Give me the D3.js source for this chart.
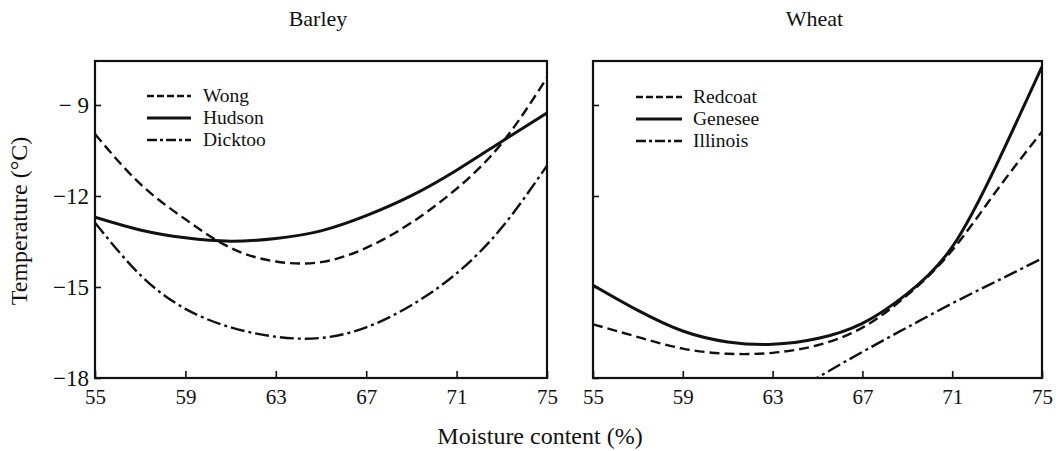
<!DOCTYPE html>
<html>
<head>
<meta charset="utf-8">
<script src="https://cdn.jsdelivr.net/npm/d3@7"></script>
<style>
  body { margin: 0; background: #fff; }
  svg { display: block; font-family: "Liberation Serif", "DejaVu Serif", serif; }
</style>
</head>
<body>
<svg width="1060" height="451"></svg>
<script>
var svg = d3.select("svg"),
  width = +svg.attr("width"),
  height = +svg.attr("height");

// moisture content (%) and temperature (°C)
var moisture = [55, 57, 59, 61, 63, 65, 67, 69, 71, 73, 75];
var wong     = [-9.96, -11.6, -12.77, -13.71, -14.16, -14.18, -13.71, -12.88, -11.76, -10.26, -8.1];
var hudson   = [-12.7, -13.12, -13.38, -13.49, -13.4, -13.15, -12.65, -11.99, -11.15, -10.2, -9.26];
var dicktoo  = [-12.88, -14.6, -15.72, -16.33, -16.64, -16.68, -16.33, -15.6, -14.55, -13.04, -11.0];
var redcoat  = [-16.23, -16.65, -17.03, -17.2, -17.17, -16.92, -16.34, -15.27, -13.79, -11.8, -9.88];
var genesee  = [-14.94, -15.77, -16.45, -16.81, -16.89, -16.7, -16.2, -15.22, -13.68, -10.93, -7.74];
var illinoisX = [64.5, 67, 69, 71, 73, 75];
var illinois  = [-18.2, -17.14, -16.33, -15.54, -14.8, -14.06];

var xTicks = [55, 59, 63, 67, 71, 75];
var yTicks = [-9, -12, -15, -18];

var dashStyle = "10,5";
var dashDotStyle = "14,4,3,4";

var panels = [
  { title: "Barley", left: 95, right: 547, showY: true,
    series: [
      { name: "Wong",    x: moisture, y: wong,    dash: dashStyle,    w: 2.4 },
      { name: "Hudson",  x: moisture, y: hudson,  dash: null,         w: 3 },
      { name: "Dicktoo", x: moisture, y: dicktoo, dash: dashDotStyle, w: 2.4 }
    ],
    legend: { x1: 147, x2: 191, tx: 203, y0: 96 } },
  { title: "Wheat", left: 593, right: 1042, showY: false,
    series: [
      { name: "Redcoat",  x: moisture,  y: redcoat,  dash: dashStyle,    w: 2.4 },
      { name: "Genesee",  x: moisture,  y: genesee,  dash: null,         w: 3 },
      { name: "Illinois", x: illinoisX, y: illinois, dash: dashDotStyle, w: 2.4 }
    ],
    legend: { x1: 636, x2: 682, tx: 693, y0: 97 } }
];

var plotTop = 61, plotBottom = 378;

var y = d3.scaleLinear().domain([-18, -7.55]).range([plotBottom, plotTop]);

panels.forEach(function(p, i) {
  var x = d3.scaleLinear().domain([55, 75]).range([p.left, p.right]);
  var g = svg.append("g").attr("class", "panel");

  g.append("clipPath").attr("id", "clip" + i)
    .append("rect")
    .attr("x", p.left).attr("y", plotTop)
    .attr("width", p.right - p.left).attr("height", plotBottom - plotTop);

  // title
  g.append("text")
    .attr("x", (p.left + p.right) / 2 - 3)
    .attr("y", 26)
    .attr("text-anchor", "middle")
    .attr("font-size", 22)
    .attr("fill", "#111")
    .text(p.title);

  // x axis, ticks pointing in
  var xAxis = g.append("g")
    .attr("transform", "translate(0," + plotBottom + ")")
    .call(d3.axisBottom(x).tickValues(xTicks).tickSize(-7).tickPadding(12).tickFormat(d3.format("d")));
  xAxis.select(".domain").remove();
  xAxis.selectAll("line").attr("stroke", "#111").attr("stroke-width", 1.6);
  xAxis.selectAll("text")
    .attr("font-size", 21)
    .attr("font-family", "Liberation Serif")
    .attr("fill", "#111")
    .attr("y", 10)
    .attr("dy", "0.75em");

  // y axis
  var yAxis = g.append("g")
    .attr("transform", "translate(" + p.left + ",0)")
    .call(d3.axisLeft(y).tickValues(yTicks).tickSize(-6).tickPadding(8)
      .tickFormat(function(d) { return p.showY ? (Math.abs(d) < 10 ? "\u2212 " : "\u2212") + Math.abs(d) : ""; }));
  yAxis.select(".domain").remove();
  yAxis.selectAll("line").attr("stroke", "#111").attr("stroke-width", 1.6);
  yAxis.selectAll("text")
    .attr("font-size", 23)
    .attr("font-family", "Liberation Serif")
    .attr("fill", "#111")
    .attr("x", -6);

  // frame
  g.append("rect")
    .attr("x", p.left).attr("y", plotTop)
    .attr("width", p.right - p.left).attr("height", plotBottom - plotTop)
    .attr("fill", "none")
    .attr("stroke", "#111")
    .attr("stroke-width", 2.2);

  var line = d3.line().curve(d3.curveNatural)
    .x(function(d) { return x(d[0]); })
    .y(function(d) { return y(d[1]); });

  p.series.forEach(function(s) {
    var pts = s.x.map(function(v, k) { return [v, s.y[k]]; });
    g.append("path")
      .attr("d", line(pts))
      .attr("clip-path", "url(#clip" + i + ")")
      .attr("fill", "none")
      .attr("stroke", "#111")
      .attr("stroke-width", s.w)
      .attr("stroke-dasharray", s.dash);
  });

  // legend
  var lg = g.append("g");
  p.series.forEach(function(s, k) {
    var ly = p.legend.y0 + k * 22;
    lg.append("line")
      .attr("x1", p.legend.x1).attr("x2", p.legend.x2)
      .attr("y1", ly).attr("y2", ly)
      .attr("stroke", "#111")
      .attr("stroke-width", s.w)
      .attr("stroke-dasharray", s.dash ? (s.dash === dashStyle ? "7,3" : "10,3,3,3") : null);
    lg.append("text")
      .attr("x", p.legend.tx).attr("y", ly)
      .attr("dy", "0.33em")
      .attr("font-size", 19.5)
      .attr("fill", "#111")
      .text(s.name);
  });
});

// shared axis labels
svg.append("text")
  .attr("x", 540).attr("y", 444)
  .attr("text-anchor", "middle")
  .attr("font-size", 24)
  .attr("fill", "#111")
  .text("Moisture content (%)");

svg.append("text")
  .attr("transform", "translate(27,221) rotate(-90)")
  .attr("text-anchor", "middle")
  .attr("font-size", 24)
  .attr("fill", "#111")
  .text("Temperature (\u00b0C)");
</script>
</body>
</html>
